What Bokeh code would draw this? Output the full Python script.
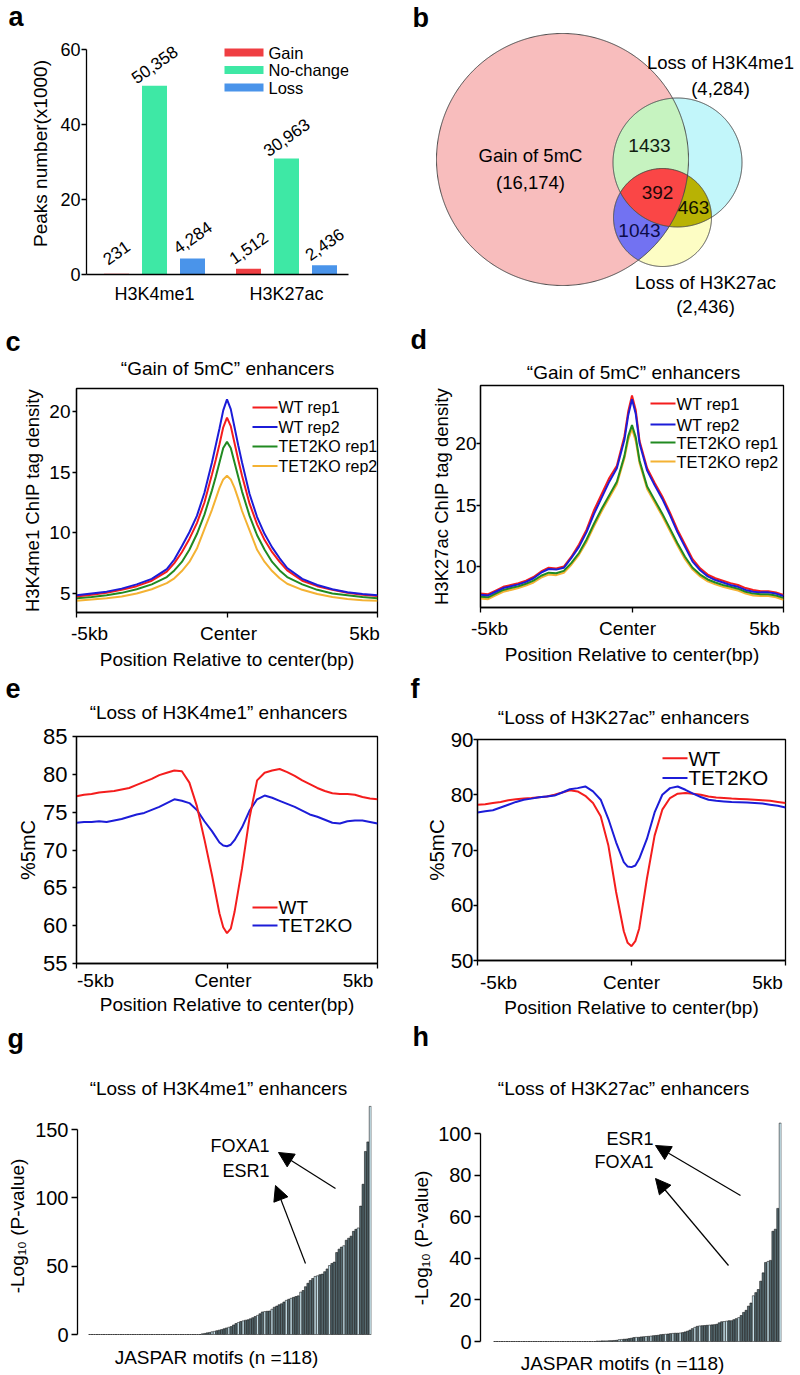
import numpy as np
from bokeh.plotting import figure
from bokeh.layouts import column, row
from bokeh.models import Range1d, FixedTicker, LinearAxis, Label, Arrow, NormalHead
from bokeh.embed import file_html
from bokeh.resources import INLINE

FONT = "Liberation Sans"

# ---------------- data ----------------
a_groups = ["H3K4me1", "H3K27ac"]
a_series = ["Gain", "No-change", "Loss"]
a_H3K4me1 = [231, 50358, 4284]
a_H3K27ac = [1512, 30963, 2436]
a_ticks = [0, 20, 40, 60]

b_names = ["Gain of 5mC", "Loss of H3K4me1", "Loss of H3K27ac"]
b_totals = ["(16,174)", "(4,284)", "(2,436)"]
b_gain_k4 = "1433"
b_gain_k27 = "1043"
b_k4_k27 = "463"
b_all = "392"

kb_labels = ["-5kb", "Center", "5kb"]
rep_names = ["WT rep1", "WT rep2", "TET2KO rep1", "TET2KO rep2"]
wt_names = ["WT", "TET2KO"]

c_x = [-5, -4.5, -4, -3.5, -3, -2.5, -2, -1.75, -1.5, -1.25, -1, -0.75, -0.5, -0.375, -0.25, -0.125,
       0, 0.125, 0.25, 0.375, 0.5, 0.75, 1, 1.25, 1.5, 1.75, 2, 2.5, 3, 3.5, 4, 4.5, 5]
c_wt1 = [4.75, 4.9, 5.05, 5.3, 5.6, 6.05, 6.8, 7.5, 8.4, 9.5, 10.8, 12.5, 14.8, 16.0, 17.3, 18.7,
         19.5, 18.8, 17.4, 16.0, 14.7, 12.4, 10.7, 9.4, 8.4, 7.6, 6.9, 6.05, 5.6, 5.3, 5.05, 4.9, 4.8]
c_wt2 = [4.85, 5.0, 5.15, 5.4, 5.75, 6.2, 7.0, 7.8, 8.9, 10.05, 11.4, 13.3, 15.8, 17.2, 18.6, 20.1,
         21.0, 20.2, 18.7, 17.2, 15.8, 13.2, 11.3, 9.9, 8.8, 7.9, 7.1, 6.2, 5.7, 5.35, 5.1, 4.95, 4.85]
c_ko1 = [4.6, 4.7, 4.85, 5.05, 5.35, 5.75, 6.35, 6.9, 7.6, 8.6, 9.9, 11.5, 13.5, 14.6, 15.8, 17.0,
         17.5, 17.0, 15.8, 14.6, 13.4, 11.4, 9.8, 8.6, 7.6, 6.9, 6.35, 5.75, 5.3, 5.0, 4.85, 4.7, 4.6]
c_ko2 = [4.4, 4.5, 4.6, 4.75, 5.0, 5.35, 5.85, 6.25, 6.85, 7.6, 8.7, 10.3, 11.9, 12.8, 13.7, 14.4,
         14.7, 14.4, 13.7, 12.8, 11.8, 10.2, 8.6, 7.6, 6.85, 6.25, 5.8, 5.3, 4.95, 4.7, 4.55, 4.45, 4.4]
c_yticks = [5, 10, 15, 20]

p_x = [-5, -4.75, -4.5, -4.25, -4, -3.75, -3.5, -3.25, -3, -2.75, -2.5, -2.25, -2, -1.75, -1.5,
       -1.25, -1, -0.75, -0.5, -0.25, -0.125, 0, 0.125, 0.25, 0.5, 0.75, 1, 1.25, 1.5, 1.75, 2,
       2.25, 2.5, 2.75, 3, 3.25, 3.5, 3.75, 4, 4.25, 4.5, 4.75, 5]
d_wt1 = [7.8, 7.75, 8.05, 8.35, 8.5, 8.65, 8.85, 9.15, 9.6, 9.9, 9.85, 10.0, 10.8, 11.8, 13.0,
         14.6, 15.9, 17.2, 18.2, 20.6, 22.6, 23.9, 22.7, 20.2, 18.0, 16.8, 15.7, 14.4, 13.0, 11.8,
         10.6, 9.85, 9.35, 9.05, 8.85, 8.65, 8.5, 8.25, 8.1, 8.0, 8.0, 7.9, 7.7]
d_wt2 = [7.7, 7.65, 7.95, 8.25, 8.4, 8.55, 8.75, 9.05, 9.5, 9.8, 9.75, 9.9, 10.7, 11.6, 12.8,
         14.3, 15.6, 16.9, 18.0, 20.3, 22.3, 23.6, 22.4, 20.0, 17.8, 16.6, 15.5, 14.2, 12.8, 11.6,
         10.4, 9.7, 9.2, 8.9, 8.7, 8.5, 8.35, 8.1, 7.95, 7.9, 7.9, 7.8, 7.6]
d_ko1 = [7.55, 7.5, 7.8, 8.1, 8.25, 8.4, 8.6, 8.85, 9.25, 9.5, 9.45, 9.65, 10.3, 11.1, 12.2,
         13.5, 14.7, 15.8, 16.9, 19.0, 20.6, 21.5, 20.5, 18.6, 16.5, 15.4, 14.3, 13.1, 11.9, 10.8,
         9.9, 9.35, 8.95, 8.7, 8.5, 8.35, 8.2, 7.95, 7.8, 7.75, 7.75, 7.65, 7.45]
d_ko2 = [7.4, 7.35, 7.65, 7.95, 8.1, 8.25, 8.45, 8.7, 9.1, 9.35, 9.3, 9.5, 10.15, 10.95, 12.0,
         13.3, 14.5, 15.6, 16.7, 18.8, 20.3, 21.2, 20.2, 18.4, 16.3, 15.2, 14.1, 12.9, 11.7, 10.6,
         9.75, 9.2, 8.8, 8.55, 8.35, 8.2, 8.05, 7.8, 7.65, 7.6, 7.6, 7.5, 7.3]
d_yticks = [10, 15, 20]

e_wt = [77.1, 77.3, 77.4, 77.6, 77.7, 77.8, 78.0, 78.2, 78.6, 79.0, 79.4, 79.9, 80.2, 80.5, 80.4,
        78.9, 75.8, 71.4, 66.7, 61.6, 59.8, 59.0, 59.6, 61.8, 67.6, 74.3, 79.2, 80.2, 80.5, 80.7,
        80.3, 79.8, 79.2, 78.7, 78.2, 77.8, 77.5, 77.4, 77.4, 77.3, 77.0, 76.8, 76.7]
e_ko = [73.6, 73.7, 73.7, 73.8, 73.7, 73.9, 74.1, 74.4, 74.7, 74.9, 75.3, 75.7, 76.2, 76.7, 76.5,
        76.2, 75.3, 73.8, 72.5, 71.0, 70.6, 70.5, 70.7, 71.3, 73.0, 75.2, 76.7, 77.2, 76.9, 76.5,
        76.1, 75.7, 75.2, 74.7, 74.4, 74.0, 73.6, 73.5, 73.8, 73.9, 73.9, 73.7, 73.5]
e_yticks = [55, 60, 65, 70, 75, 80, 85]

f_wt = [78.2, 78.3, 78.5, 78.7, 79.0, 79.2, 79.3, 79.4, 79.55, 79.7, 80.0, 80.4, 80.8, 80.6, 79.8,
        78.5, 76.1, 70.8, 62.4, 55.3, 53.2, 52.6, 53.5, 55.8, 64.8, 72.6, 77.3, 79.4, 80.2, 80.3,
        80.2, 80.0, 79.7, 79.5, 79.4, 79.3, 79.25, 79.2, 79.1, 79.0, 78.9, 78.7, 78.5]
f_ko = [76.8, 77.0, 77.2, 77.7, 78.2, 78.7, 79.1, 79.3, 79.55, 79.7, 79.85, 80.4, 81.0, 81.2, 81.5,
        80.6, 79.1, 75.6, 71.4, 67.8, 67.0, 66.9, 67.2, 68.4, 72.0, 76.8, 80.0, 81.2, 81.5, 80.9,
        80.2, 79.6, 79.1, 78.9, 78.8, 78.7, 78.65, 78.6, 78.5, 78.4, 78.2, 78.0, 77.7]
f_yticks = [50, 60, 70, 80, 90]

g_vals = [0.0] * 47 + [
    0.5, 0.8, 1.2, 1.5, 2.0, 2.3, 2.8, 3.2, 3.6, 4.2, 4.8,
    5.3, 5.8, 7.0, 8.0, 8.8, 9.5, 10.0, 10.5, 10.8, 11.5,
    12.3, 13.2, 14.0, 15.2, 16.5, 16.8, 17.0, 17.2, 18.5, 20.0,
    20.8, 21.8, 22.5, 23.8, 25.0, 25.8, 26.5, 27.2, 27.8, 28.3,
    31.0, 32.2, 35.0, 37.5, 39.5, 41.0, 42.5, 43.0, 43.8, 44.2,
    46.0, 48.0, 50.5, 52.0, 53.0, 60.0, 62.5, 64.0, 65.0, 69.0,
    70.5, 72.0, 75.5, 77.0, 78.0, 94.0, 110.0, 134.0, 141.0, 167.0]
g_yticks = [0, 50, 100, 150]

h_vals = [0.0] * 42 + [
    0.2, 0.2, 0.3, 0.3, 0.3, 0.4, 0.4, 0.5, 0.6,
    0.9, 1.0, 1.1, 1.2, 1.4, 1.6, 1.9, 2.0, 2.0, 2.2,
    2.3, 2.4, 2.5, 2.6, 2.8, 2.9, 3.0, 3.3, 3.4, 3.5,
    3.6, 3.8, 3.9, 4.0, 4.0, 4.1, 4.3, 4.6, 5.0, 5.5,
    6.2, 6.8, 7.3, 7.5, 7.6, 7.7, 7.8, 7.9, 8.0, 8.1,
    8.3, 9.0, 9.5, 9.6, 9.8, 10.0, 10.0, 10.5, 11.0, 11.5,
    12.5, 14.0, 15.0, 17.0, 18.5, 22.0, 23.5, 25.0, 29.0, 33.0,
    38.0, 38.5, 39.0, 53.0, 54.0, 64.0, 105.0]
h_yticks = [0, 20, 40, 60, 80, 100]

# ---------------- styling ----------------
RED, BLUE, GREEN, ORANGE = "#f41d1d", "#1c1cd8", "#218a21", "#f4b233"
A_COLORS = ["#ef3e42", "#3ee8a5", "#4a94ea"]


class Geo:
    def __init__(s, W, H, L, R, T, B, xr, yr):
        s.W, s.H, s.L, s.R, s.T, s.B = W, H, L, R, T, B
        s.x0, s.x1 = xr
        s.y0, s.y1 = yr

    def X(s, lx):
        return s.x0 + (lx - s.L) / (s.W - s.R - s.L) * (s.x1 - s.x0)

    def Y(s, ly):
        return s.y0 + (s.H - s.B - ly) / (s.H - s.B - s.T) * (s.y1 - s.y0)

    def dy(s, px):
        return px / (s.H - s.B - s.T) * (s.y1 - s.y0)


def base(g):
    p = figure(width=g.W, height=g.H, x_range=Range1d(g.x0, g.x1), y_range=Range1d(g.y0, g.y1),
               output_backend="svg", toolbar_location=None, x_axis_type=None, y_axis_type=None,
               min_border_left=g.L, min_border_right=g.R, min_border_top=g.T, min_border_bottom=g.B)
    p.outline_line_color = None
    p.background_fill_color = "white"
    p.border_fill_color = "white"
    return p


def style_axis(ax, font_px, tick_out=4, standoff=2, lw=1.3):
    ax.axis_line_color = "black"
    ax.axis_line_width = lw
    ax.major_tick_line_color = "black"
    ax.major_tick_line_width = lw
    ax.major_tick_out = tick_out
    ax.major_tick_in = 0
    ax.minor_tick_line_color = None
    ax.major_label_text_font = FONT
    ax.major_label_text_font_size = f"{font_px}px"
    ax.major_label_text_color = "black"
    ax.major_label_standoff = standoff
    ax.axis_label_text_font = FONT
    ax.axis_label_text_font_style = "normal"
    ax.axis_label_text_color = "black"


def txt(p, g, lx, ly, text, size, align="center", baseline="middle", bold=False, angle=0.0,
        color="black"):
    p.add_layout(Label(x=g.X(lx), y=g.Y(ly), text=text, text_font=FONT,
                       text_font_size=f"{size}px", text_align=align, text_baseline=baseline,
                       text_font_style="bold" if bold else "normal", angle=angle,
                       text_color=color))


def header(h, letter_xy, letter_txt, title=None):
    g = Geo(400, h, 0, 0, 0, 0, (0, 400), (0, h))
    p = base(g)
    txt(p, g, letter_xy[0], letter_xy[1], letter_txt, 27, align="left", bold=True)
    if title is not None:
        txt(p, g, title[0], title[1], title[2], 19)
    return p


def kb_axes(p, g, kb_px, standoff, xl_standoff):
    ta = LinearAxis(ticker=FixedTicker(ticks=[-5, 0, 5]))
    style_axis(ta, 0, tick_out=5, standoff=0)
    ta.major_label_overrides = {-5: "", 0: "", 5: ""}
    p.add_layout(ta, "below")
    pos = [round(g.X(v), 3) for v in kb_px]
    la = LinearAxis(ticker=FixedTicker(ticks=pos))
    style_axis(la, 19, tick_out=0, standoff=standoff)
    la.axis_line_color = None
    la.major_tick_line_color = None
    la.major_label_overrides = dict(zip(pos, kb_labels))
    la.axis_label = "Position Relative to center(bp)"
    la.axis_label_text_font_size = "19px"
    la.axis_label_standoff = xl_standoff
    p.add_layout(la, "below")


def y_axis(p, ticks, font_px, tick_out, standoff, label, label_px, label_standoff, bounds=None):
    ax = LinearAxis(ticker=FixedTicker(ticks=ticks))
    if bounds is not None:
        ax.bounds = bounds
    style_axis(ax, font_px, tick_out=tick_out, standoff=standoff)
    ax.axis_label = label
    ax.axis_label_text_font_size = f"{label_px}px"
    ax.axis_label_standoff = label_standoff
    p.add_layout(ax, "left")
    return ax


def line_legend(p, g, lx0, lx1, lys, names, colors, size):
    for ly, n, c in zip(lys, names, colors):
        p.line([g.X(lx0), g.X(lx1)], [g.Y(ly), g.Y(ly)], line_color=c, line_width=2)
        txt(p, g, lx1 + 1, ly, n, size, align="left")


def stack(*figs):
    return column(*[column(f) for f in figs], spacing=0)


# ---------------- panel a ----------------
ha = header(32, (8, 16), "a")
ga = Geo(400, 290, 86, 52, 0, 48, (1 - 68 / 132, 2 + 62 / 132), (0, 60 + 17 / 3.75))
pa = base(ga)
offs = [-38 / 132, 0, 38 / 132]
for k, (name, col) in enumerate(zip(a_series, A_COLORS)):
    xs = [1 + offs[k], 2 + offs[k]]
    tops = [a_H3K4me1[k] / 1000, a_H3K27ac[k] / 1000]
    pa.vbar(x=xs, top=tops, width=25 / 132, fill_color=col, line_color=None)
    for xv, raw in zip(xs, [a_H3K4me1[k], a_H3K27ac[k]]):
        pa.add_layout(Label(x=xv, y=raw / 1000 + ga.dy(21), text=f"{raw:,}", text_font=FONT,
                            text_font_size="17px", text_align="center", text_baseline="middle",
                            angle=np.deg2rad(35), text_color="black"))
y_axis(pa, a_ticks, 18, 5, 1, "Peaks number(x1000)", 19, 6, bounds=(0, 60))
xa = LinearAxis(ticker=FixedTicker(ticks=[1, 2]))
style_axis(xa, 18, tick_out=0, standoff=9)
xa.major_tick_line_color = None
xa.major_label_overrides = {1: a_groups[0], 2: a_groups[1]}
pa.add_layout(xa, "below")
for k, (name, col) in enumerate(zip(a_series, A_COLORS)):
    ly = 20 + k * 17.5
    pa.quad(left=ga.X(224), right=ga.X(263), top=ga.Y(ly - 4), bottom=ga.Y(ly + 4),
            fill_color=col, line_color=None)
    txt(pa, ga, 268, ly, name, 16.5, align="left")

# ---------------- panel b (Venn) ----------------
gb = Geo(400, 322, 0, 0, 0, 0, (0, 400), (0, 322))
pb = base(gb)
circ = [(gb.X(162), gb.Y(159), 126.0), (gb.X(277), gb.Y(162), 64.5), (gb.X(262), gb.Y(217), 49.0)]


def ring(c, n=720):
    t = np.linspace(0, 2 * np.pi, n, endpoint=False)
    return c[0] + c[2] * np.cos(t), c[1] + c[2] * np.sin(t)


def inter(cs, n=1440):
    pts = []
    for i, c in enumerate(cs):
        xs, ys = ring(c, n)
        m = np.ones(n, bool)
        for j, o in enumerate(cs):
            if j != i:
                m &= (xs - o[0]) ** 2 + (ys - o[1]) ** 2 <= o[2] ** 2 + 1e-6
        pts.append(np.c_[xs[m], ys[m]])
    P = np.vstack(pts)
    cen = P.mean(0)
    P = P[np.argsort(np.arctan2(P[:, 1] - cen[1], P[:, 0] - cen[0]))]
    return P[:, 0], P[:, 1]


for c, col in zip(circ, ["#f8bdbd", "#c2f6fa", "#fdfdc4"]):
    xs, ys = ring(c)
    pb.patch(xs, ys, fill_color=col, line_color=None)
for idx, col in [((0, 1), "#c6f3c0"), ((0, 2), "#7272f2"), ((1, 2), "#b8b204"), ((0, 1, 2), "#fa4646")]:
    xs, ys = inter([circ[i] for i in idx])
    pb.patch(xs, ys, fill_color=col, line_color=None)
for c in circ:
    xs, ys = ring(c)
    pb.patch(xs, ys, fill_color=None, line_color="#4a4a4a", line_width=1)
txt(pb, gb, 130, 155, b_names[0], 18.5)
txt(pb, gb, 130, 182, b_totals[0], 18.5)
txt(pb, gb, 320, 62, b_names[1], 18.5)
txt(pb, gb, 320, 88, b_totals[1], 18.5)
txt(pb, gb, 305, 282, b_names[2], 18.5)
txt(pb, gb, 305, 306, b_totals[2], 18.5)
txt(pb, gb, 249, 145, b_gain_k4, 19, color="#102010")
txt(pb, gb, 257, 192, b_all, 19, color="#200808")
txt(pb, gb, 293, 207, b_k4_k27, 19, color="#101000")
txt(pb, gb, 239, 230, b_gain_k27, 19, color="#0c0c48")
txt(pb, gb, 12, 17, "b", 27, align="left", bold=True)

# ---------------- panel c ----------------
hc = header(63, (5, 19), "c", (227, 46, "\u201cGain of 5mC\u201d enhancers"))
gc = Geo(400, 287, 76, 23, 3, 60, (-5, 5), (3.43, 21.9))
pc = base(gc)
pc.outline_line_color = "black"
pc.outline_line_width = 1.3
for ys, col in [(c_ko2, ORANGE), (c_ko1, GREEN), (c_wt1, RED), (c_wt2, BLUE)]:
    pc.line(c_x, ys, line_color=col, line_width=2)
y_axis(pc, c_yticks, 19, 4, 2, "H3K4me1 ChIP tag density", 18.5, 3)
kb_axes(pc, gc, [89, 228, 364], 5, 2)
line_legend(pc, gc, 252, 277, [22, 41.5, 61, 80.5], rep_names, [RED, BLUE, GREEN, ORANGE], 16)

# ---------------- panel d ----------------
hd = header(62, (10, 17), "d", (233, 50, "\u201cGain of 5mC\u201d enhancers"))
gd = Geo(400, 288, 80, 17, 1, 65, (-5, 5), (6.67, 24.72))
pd_ = base(gd)
pd_.outline_line_color = "black"
pd_.outline_line_width = 1.3
for ys, col in [(d_ko2, ORANGE), (d_ko1, GREEN), (d_wt1, RED), (d_wt2, BLUE)]:
    pd_.line(p_x, ys, line_color=col, line_width=2)
y_axis(pd_, d_yticks, 19, 4, 0, "H3K27ac ChIP tag density", 18.5, 0)
kb_axes(pd_, gd, [89, 227, 364], 5, 2)
line_legend(pd_, gd, 250, 275, [19, 40, 58, 77], rep_names, [RED, BLUE, GREEN, ORANGE], 16.5)

# ---------------- panel e ----------------
he = header(52, (5, 16), "e", (218, 40, "\u201cLoss of H3K4me1\u201d enhancers"))
ge = Geo(400, 296, 76, 23, 12, 57, (-5, 5), (55, 85))
pe = base(ge)
pe.outline_line_color = "black"
pe.outline_line_width = 1.3
pe.line(p_x, e_ko, line_color=BLUE, line_width=2)
pe.line(p_x, e_wt, line_color=RED, line_width=2)
y_axis(pe, e_yticks, 22, 4, 5, "%5mC", 20, 1)
kb_axes(pe, ge, [95, 222.5, 357.5], 1, 0)
line_legend(pe, ge, 252, 277, [183, 201], wt_names, [RED, BLUE], 19)

# ---------------- panel f ----------------
hf = header(56, (10, 16), "f", (223, 45, "\u201cLoss of H3K27ac\u201d enhancers"))
gf = Geo(400, 292, 77, 15, 11, 57, (-5, 5), (50, 90))
pf = base(gf)
pf.outline_line_color = "black"
pf.outline_line_width = 1.3
pf.line(p_x, f_wt, line_color=RED, line_width=2)
pf.line(p_x, f_ko, line_color=BLUE, line_width=2)
y_axis(pf, f_yticks, 20.5, 4, 0, "%5mC", 20.5, 0)
kb_axes(pf, gf, [98, 231, 367], 6, 1)
line_legend(pf, gf, 262, 287, [30, 50], wt_names, [RED, BLUE], 20.5)


# ---------------- panels g, h ----------------
def motif_panel(g, vals, yticks, top_bound, lab_standoff):
    p = base(g)
    xs = np.arange(len(vals)) + 0.5
    cols = ["#c3dde6" if (i % 6 == 4 or i % 11 == 7) else "#566a70" for i in range(len(vals))]
    p.vbar(x=xs, top=vals, width=0.9, fill_color=cols, line_color="black", line_width=0.5)
    y_axis(p, yticks, 20, 6, 3, "-Log\u2081\u2080 (P-value)", 19, lab_standoff, bounds=(0, top_bound))
    return p


def arrow(p, g, sx, sy, ex, ey):
    p.add_layout(Arrow(end=NormalHead(size=15, fill_color="black", line_color="black"),
                       x_start=g.X(sx), y_start=g.Y(sy), x_end=g.X(ex), y_end=g.Y(ey),
                       line_width=1.2, line_color="black"))


hg = header(56, (7, 18), "g")
gg = Geo(400, 299, 77, 29, 0, 0, (-11 / 2.398, 118), (-(299 - 258) / 1.366, 258 / 1.366))
pg = motif_panel(gg, g_vals, g_yticks, 150, 4)
txt(pg, gg, 218, 12, "\u201cLoss of H3K4me1\u201d enhancers", 19)
txt(pg, gg, 216, 281, "JASPAR motifs (n =118)", 19)
txt(pg, gg, 269, 69, "FOXA1", 18, align="right")
txt(pg, gg, 269, 94, "ESR1", 18, align="right")
arrow(pg, gg, 335, 112, 278, 76)
arrow(pg, gg, 305, 187, 275, 109)

hh = header(80, (12, 16), "h", (223, 68, "\u201cLoss of H3K27ac\u201d enhancers"))
gh = Geo(400, 275, 80, 19, 0, 0, (-13 / 2.44, 118), (-(275 - 241) / 2.08, 241 / 2.08))
ph = motif_panel(gh, h_vals, h_yticks, 100, 3)
txt(ph, gh, 222, 263, "JASPAR motifs (n =118)", 19)
txt(ph, gh, 253, 38, "ESR1", 18, align="right")
txt(ph, gh, 253, 61, "FOXA1", 18, align="right")
arrow(ph, gh, 340, 95, 255, 45)
arrow(ph, gh, 328, 165, 255, 78)

layout = column(
    row(stack(ha, pa), stack(pb), spacing=0),
    row(stack(hc, pc), stack(hd, pd_), spacing=0),
    row(stack(he, pe), stack(hf, pf), spacing=0),
    row(stack(hg, pg), stack(hh, ph), spacing=0),
    spacing=0)
open("out.html", "w").write(file_html(layout, INLINE))
